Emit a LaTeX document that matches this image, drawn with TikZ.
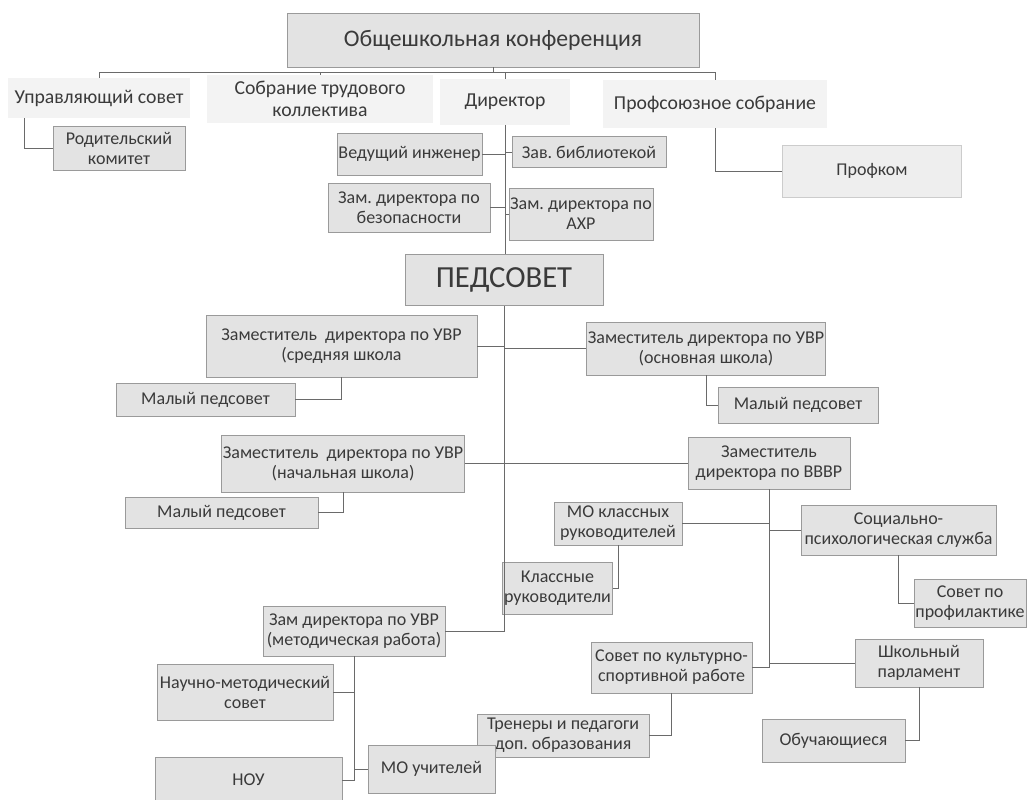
\documentclass[tikz,border=0pt]{standalone}
\usepackage{fontspec}
\setmainfont{Carlito}
\usepackage{tikz}
\usetikzlibrary{calc, positioning}
\definecolor{boxfill}{HTML}{E3E3E3}
\definecolor{boxline}{HTML}{9A9A9A}
\definecolor{headfill}{HTML}{F3F3F3}
\definecolor{inkgray}{HTML}{3A3A3A}
\definecolor{wire}{HTML}{6A6A6A}
\frenchspacing

\begin{document}
\begin{tikzpicture}[
    x=0.75pt, y=-0.75pt,
    unit/.style={draw=boxline, fill=boxfill, inner sep=1pt, align=center, text=inkgray, font=\fontsize{13.5}{15}\selectfont},
    head/.style={fill=headfill, inner sep=1pt, align=center, text=inkgray, font=\fontsize{14.8}{16.5}\selectfont},
    sz/.style 2 args={minimum width={#1*0.75pt}, minimum height={#2*0.75pt}},
    link/.style={draw=wire, line width=0.6pt}
]
\useasboundingbox (0,0) rectangle (1027,799);
\fill[white] (0,0) rectangle (1027,799);

\node[unit, sz={412}{54}, font=\fontsize{17.8}{21}\selectfont] (conf) at (493,40) {Общешкольная конференция};
\node[head, sz={182}{40}] (upr) at (99,98) {Управляющий совет};
\node[head, sz={226}{47}] (sobr) at (320,99) {Собрание трудового\\коллектива};
\node[head, sz={130}{45}] (dir) at (505,102) {Директор};
\node[head, sz={224}{48}] (prof) at (715,104) {Профсоюзное собрание};
\node[unit, sz={132}{44}] (rodk) at (119,148) {Родительский\\комитет};
\node[unit, draw=boxline!50, fill=boxfill!60, sz={179}{52}] (profkom) at (872,171) {Профком};
\node[unit, sz={145}{42}] (ving) at (409.5,154) {Ведущий инженер};
\node[unit, sz={154}{31}] (zbib) at (589,152) {Зав. библиотекой};
\node[unit, sz={162}{49}] (zbez) at (409,207.5) {Зам. директора по\\безопасности};
\node[unit, sz={142}{52}] (zahr) at (581,214) {Зам. директора по\\АХР};
\node[unit, sz={198}{51}, font=\fontsize{23}{26}\selectfont] (ped) at (504,280) {ПЕДСОВЕТ};

\node[unit, sz={271}{62}] (uvr1) at (341.5,346) {Заместитель\ \ директора по УВР\\(средняя школа};
\node[unit, sz={224}{53}] (uvr2) at (706,348.5) {Заместитель директора по УВР\\(основная школа)};
\node[unit, sz={179}{33}] (mp1) at (205.5,399.5) {Малый педсовет};
\node[unit, sz={160}{36}] (mp2) at (798,405) {Малый педсовет};
\node[unit, sz={230}{57}] (uvr3) at (343,463.5) {Заместитель\ \ директора по УВР\\(начальная школа)};
\node[unit, sz={162}{52}] (vvvr) at (769,463) {Заместитель\\директора по ВВВР};
\node[unit, sz={193}{31}] (mp3) at (221.5,512.5) {Малый педсовет};

\node[unit, sz={128}{43}] (mokl) at (618,523.5) {МО классных\\руководителей};
\node[unit, sz={195}{50}] (sps) at (898.5,530) {Социально-\\психологическая служба};
\node[unit, sz={107}{52}] (klr) at (557.5,588) {Классные\\руководители};
\node[unit, sz={110}{48}] (sprof) at (970,603) {Совет по\\профилактике};
\node[unit, sz={182}{50}] (metod) at (354,631) {Зам директора по УВР\\(методическая работа)};
\node[unit, sz={161}{51}] (skult) at (671.5,667.5) {Совет по культурно-\\спортивной работе};
\node[unit, sz={128}{48}] (shp) at (919,663) {Школьный\\парламент};
\node[unit, sz={176}{56}] (nms) at (245,692) {Научно-методический\\совет};
\node[unit, sz={172}{43}] (trener) at (563,735.5) {Тренеры и педагоги\\доп. образования};
\node[unit, sz={143}{43}] (obuch) at (833.5,740.5) {Обучающиеся};
\node[unit, sz={127}{48}] (mou) at (431.5,769) {МО учителей};
\node[unit, sz={187}{46}] (nou) at (248.5,780) {НОУ};

\coordinate (bar) at ($(conf.south)+(0,5)$);
\draw[link] (conf.south) -- (bar);
\draw[link] (bar) -| (upr.north);
\draw[link] (bar) -| (sobr.north);
\draw[link] (bar) -| (dir.north);
\draw[link] (bar) -| (prof.north);
\draw[link] ($(upr.south west)+(17,0)$) |- (rodk.west);
\draw[link] (prof.south) |- (profkom.west);

\draw[link] (dir.south) -- (dir.south |- ped.north);
\draw[link] (ving.east) -- (ving.east -| dir.south);
\draw[link] (dir.south |- zbib.west) -- (zbib.west);
\draw[link] (zbez.east) -- (zbez.east -| dir.south);
\draw[link] (dir.south |- zahr.west) -- (zahr.west);

\draw[link] (ped.south) |- (metod.east);
\draw[link] (uvr1.east) -- (uvr1.east -| ped.south);
\draw[link] (ped.south |- uvr2.west) -- (uvr2.west);
\draw[link] (uvr3.east) -- (uvr3.east -| ped.south);
\draw[link] (ped.south |- vvvr.west) -- (vvvr.west);
\draw[link] (uvr1.south) |- (mp1.east);
\draw[link] (uvr2.south) |- (mp2.west);
\draw[link] (uvr3.south) |- (mp3.east);

\draw[link] (vvvr.south) |- (skult.east);
\draw[link] (mokl.east) -- (mokl.east -| vvvr.south);
\draw[link] (vvvr.south |- sps.west) -- (sps.west);
\draw[link] (vvvr.south |- shp.west) -- (shp.west);
\draw[link] (mokl.south) |- (klr.east);
\draw[link] (sps.south) |- (sprof.west);
\draw[link] (skult.south) |- (trener.east);
\draw[link] (shp.south) |- (obuch.east);

\draw[link] (metod.south) |- (nou.east);
\draw[link] (nms.east) -- (nms.east -| metod.south);
\draw[link] (metod.south |- mou.west) -- (mou.west);
\end{tikzpicture}
\end{document}
